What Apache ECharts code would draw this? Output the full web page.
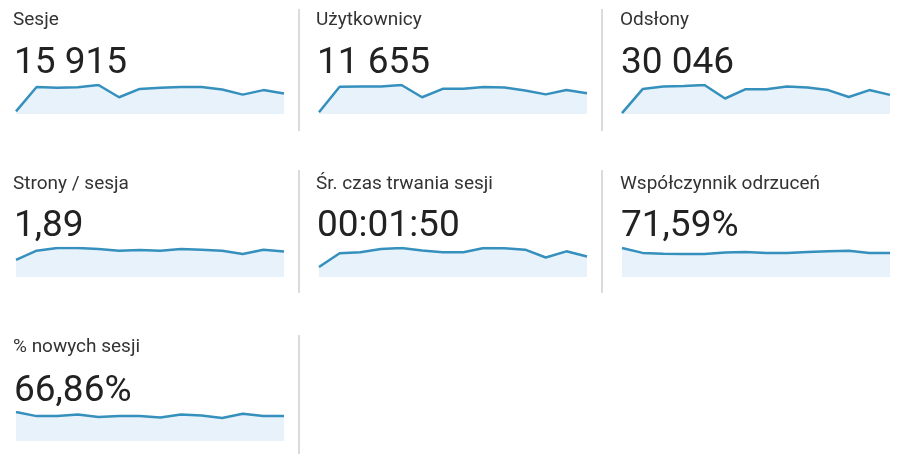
<!DOCTYPE html>
<html>
<head>
<meta charset="utf-8">
<script src="https://cdn.jsdelivr.net/npm/echarts@6/dist/echarts.min.js"></script>
<style>
html,body{margin:0;padding:0;background:#fff;}
#c{width:901px;height:454px;}
</style>
</head>
<body>
<div id="c"></div>
<script>
const days = ['1','2','3','4','5','6','7','8','9','10','11','12','13','14'];
const metricTitles = ['Sesje','Użytkownicy','Odsłony','Strony / sesja','Śr. czas trwania sesji','Współczynnik odrzuceń','% nowych sesji'];
const metricTotals = ['15 915','11 655','30 046','1,89','00:01:50','71,59%','66,86%'];
const sesje = [130, 1320, 1290, 1305, 1420, 820, 1230, 1290, 1320, 1320, 1200, 950, 1170, 1000];
const uzytkownicy = [60, 960, 965, 970, 1020, 590, 885, 885, 950, 930, 830, 690, 845, 730];
const odslony = [80, 2250, 2490, 2540, 2620, 1400, 2240, 2240, 2490, 2400, 2160, 1540, 2160, 1730];
const stronySesja = [1.15, 1.78, 1.96, 1.96, 1.89, 1.78, 1.82, 1.78, 1.89, 1.85, 1.78, 1.55, 1.84, 1.72];
const czasSesji = [42, 100, 104, 118, 122, 111, 104, 104, 122, 121, 115, 82, 108, 86];
const odrzucenia = [86, 71.5, 69, 68, 68, 73, 74, 71.5, 71.5, 74, 76.5, 78, 71.5, 71.5];
const noweSesje = [77.5, 66.5, 66.5, 71, 64, 66.5, 66.5, 63, 71, 68, 61.5, 73, 66.5, 66.5];

const seriesData = [sesje, uzytkownicy, odslony, stronySesja, czasSesji, odrzucenia, noweSesje];

const colX = [13, 316, 620];
const gridLeft = [16, 319, 622];
const gridW = 268;
const rowTitleTop = [11, 175, 338];
const rowNumTop = [45, 208, 373];
const rowGridTop = [85, 248, 412];
const gridH = 29;

const titles = [], grids = [], xAxes = [], yAxes = [], series = [];
seriesData.forEach((d, i) => {
  const col = i % 3, row = Math.floor(i / 3);
  titles.push({
    text: metricTitles[i], left: colX[col], top: rowTitleTop[row], padding: 0,
    textStyle: {fontFamily: 'Roboto', fontSize: 19, fontWeight: 'normal', color: '#333333'}
  });
  titles.push({
    text: metricTotals[i], left: colX[col] + 1, top: rowNumTop[row], padding: 0,
    textStyle: {fontFamily: 'Roboto', fontSize: 37, fontWeight: 'normal', color: '#222222'}
  });
  grids.push({
    left: gridLeft[col], top: rowGridTop[row], width: gridW, height: gridH,
    show: false
  });
  xAxes.push({type: 'category', data: days, gridIndex: i, boundaryGap: false, show: false});
  yAxes.push({type: 'value', gridIndex: i, min: 0, max: 'dataMax', show: false});
  series.push({
    type: 'line', data: d, xAxisIndex: i, yAxisIndex: i,
    symbol: 'none', silent: true,
    lineStyle: {color: '#3590bd', width: 2.5},
    areaStyle: {color: '#e8f2fa', opacity: 1}
  });
});

const dividers = [
  {x: 299, y1: 9, y2: 131},
  {x: 602, y1: 9, y2: 131},
  {x: 299, y1: 170, y2: 293},
  {x: 602, y1: 170, y2: 293},
  {x: 299, y1: 335, y2: 454}
].map(l => ({
  type: 'line', silent: true,
  shape: {x1: l.x, y1: l.y1, x2: l.x, y2: l.y2},
  style: {stroke: '#cfcfcf', lineWidth: 1.5}
}));

const chart = echarts.init(document.getElementById('c'), null, {renderer: 'canvas'});
chart.setOption({
  animation: false,
  backgroundColor: '#ffffff',
  title: titles,
  grid: grids,
  xAxis: xAxes,
  yAxis: yAxes,
  series: series,
  graphic: dividers
});
</script>
</body>
</html>
